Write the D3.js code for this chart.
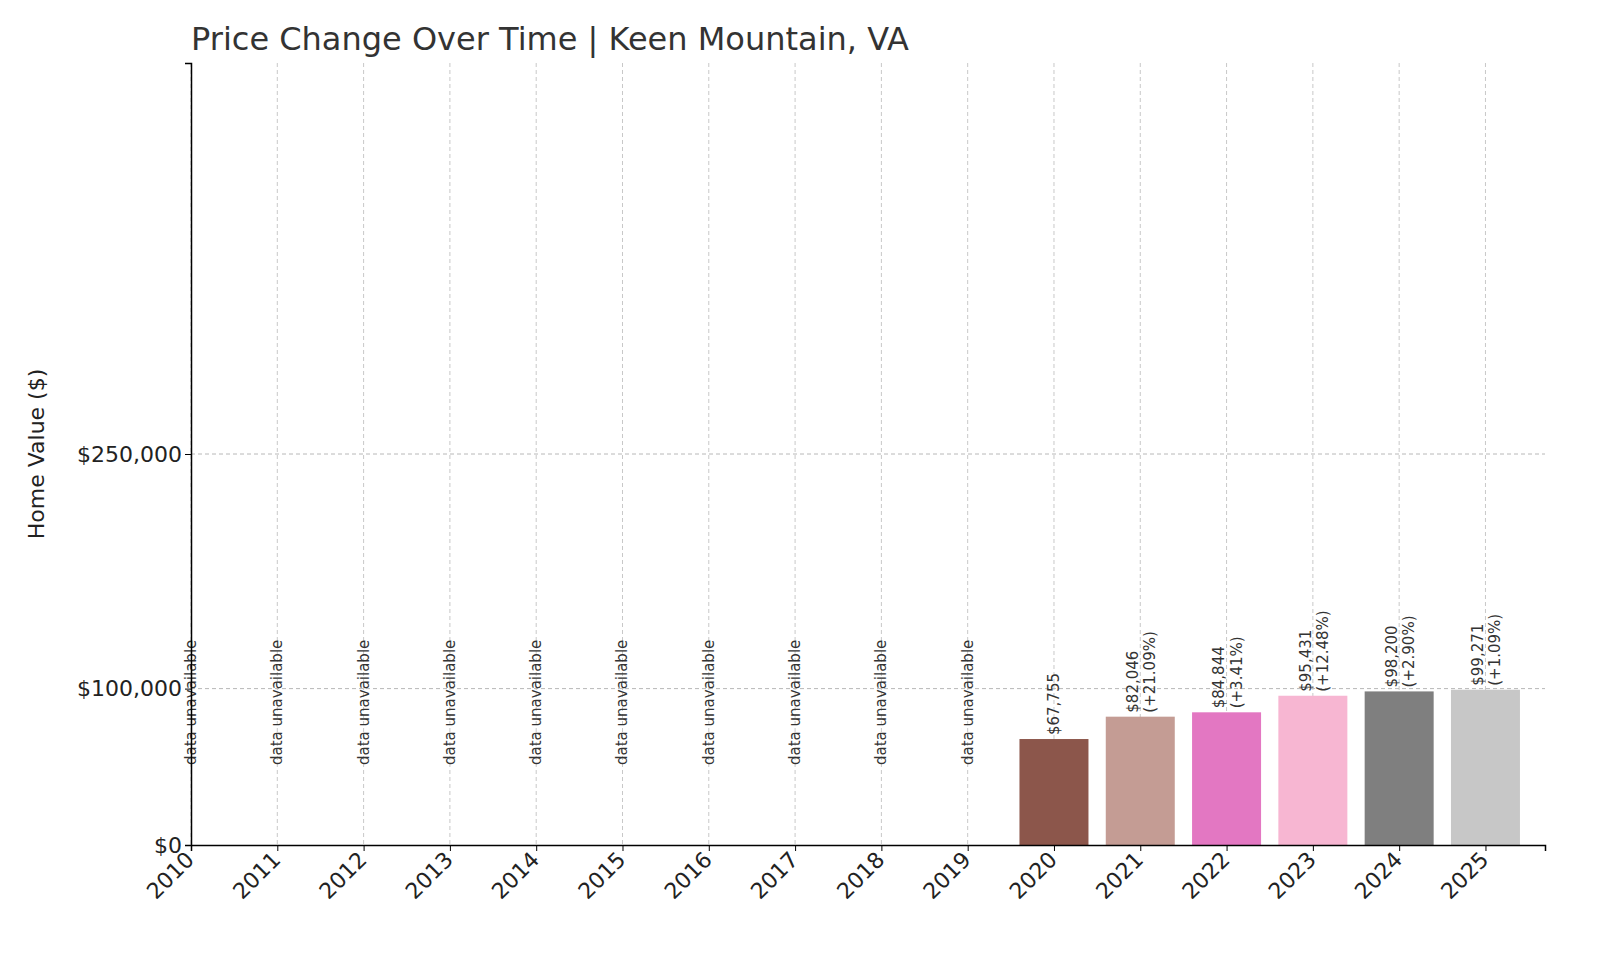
<!DOCTYPE html>
<html>
<head>
<meta charset="utf-8">
<script src="https://cdn.jsdelivr.net/npm/d3@7"></script>
<style>
body { margin: 0; background: #fff; font-family: "DejaVu Sans", sans-serif; }
</style>
</head>
<body>
<script>
// Chart data
const years = [2010, 2011, 2012, 2013, 2014, 2015, 2016, 2017, 2018, 2019, 2020, 2021, 2022, 2023, 2024, 2025];
const values = [null, null, null, null, null, null, null, null, null, null, 67755, 82046, 84844, 95431, 98200, 99271];
const changes = [null, null, null, null, null, null, null, null, null, null, null, "+21.09%", "+3.41%", "+12.48%", "+2.90%", "+1.09%"];
const barColors = ["#1f77b4", "#aec7e8", "#ff7f0e", "#ffbb78", "#2ca02c", "#98df8a", "#d62728", "#ff9896", "#9467bd", "#c5b0d5",
	"#8c564b", "#c49c94", "#e377c2", "#f7b6d2", "#7f7f7f", "#c7c7c7"];
const yTicks = [0, 100000, 250000];

const width = 1600, height = 960;
const mLeft = 191, mRight = 1545, mTop = 63, mBottom = 845;

const svg = d3.select("body").append("svg").attr("width", width).attr("height", height);

const x = d3.scaleLinear().domain([2010, 2025.69]).range([mLeft, mRight]);
const y = d3.scaleLinear().domain([0, 500000]).range([mBottom, mTop]);
const barW = 69;

// Grid
svg.append("g").selectAll("line").data(years).enter().append("line")
	.attr("x1", (d) => x(d)).attr("x2", (d) => x(d))
	.attr("y1", mTop).attr("y2", mBottom)
	.attr("stroke", "#c8c8c8").attr("stroke-dasharray", "4,3").attr("stroke-width", 1);
svg.append("g").selectAll("line").data(yTicks.slice(1)).enter().append("line")
	.attr("x1", mLeft).attr("x2", mRight)
	.attr("y1", (d) => y(d)).attr("y2", (d) => y(d))
	.attr("stroke", "#b8b8b8").attr("stroke-dasharray", "4,3").attr("stroke-width", 1);

// Bars
const data = years.map((yr, i) => ({ year: yr, value: values[i], change: changes[i], color: barColors[i] }));
svg.append("g").selectAll("rect").data(data.filter((d) => d.value != null)).enter().append("rect")
	.attr("x", (d) => x(d.year) - barW / 2)
	.attr("y", (d) => y(d.value))
	.attr("width", barW)
	.attr("height", (d) => mBottom - y(d.value))
	.attr("fill", (d) => d.color);

// Labels
const labels = svg.append("g").attr("font-size", 15).attr("fill", "#333");
data.forEach((d) => {
	if (d.value == null) {
		labels.append("text")
			.attr("transform", `translate(${x(d.year) + 5},765) rotate(-90)`)
			.text("data unavailable");
	} else {
		const ty = y(d.value) - 4;
		const t = labels.append("text").attr("transform", `translate(${x(d.year)},${ty}) rotate(-90)`);
		if (d.change) {
			t.append("tspan").attr("x", 0).attr("dy", "-0.15em").text("$" + d3.format(",")(d.value));
			t.append("tspan").attr("x", 0).attr("dy", "1.15em").text(`(${d.change})`);
		} else {
			t.append("tspan").attr("x", 0).attr("dy", "0.35em").text("$" + d3.format(",")(d.value));
		}
	}
});

// Axes
const yAxis = svg.append("g").attr("transform", `translate(${mLeft},0)`)
	.call(d3.axisLeft(y).tickValues(yTicks).tickFormat((d) => "$" + d3.format(",")(d)).tickSizeOuter(0).tickSize(6));
yAxis.select(".domain").attr("stroke", "#000").attr("stroke-width", 1.5);
yAxis.selectAll("text").attr("font-size", 22).attr("fill", "#222").attr("font-family", "DejaVu Sans");

const xAxis = svg.append("g").attr("transform", `translate(0,${mBottom})`)
	.call(d3.axisBottom(x).tickValues(years).tickFormat(d3.format("d")).tickSizeOuter(0).tickSize(6));
xAxis.select(".domain").attr("stroke", "#000").attr("stroke-width", 1.5);
xAxis.selectAll("text").attr("font-size", 22).attr("fill", "#222").attr("font-family", "DejaVu Sans")
	.attr("text-anchor", "end").attr("dy", 0).attr("y", 0)
	.attr("transform", "translate(4,16) rotate(-45)");

// Title and axis label
svg.append("text").attr("x", mLeft).attr("y", 50).attr("font-size", 32).attr("fill", "#333")
	.text("Price Change Over Time | Keen Mountain, VA");
svg.append("text").attr("transform", `translate(44,454) rotate(-90)`).attr("text-anchor", "middle")
	.attr("font-size", 22).attr("fill", "#222").text("Home Value ($)");
</script>
</body>
</html>
